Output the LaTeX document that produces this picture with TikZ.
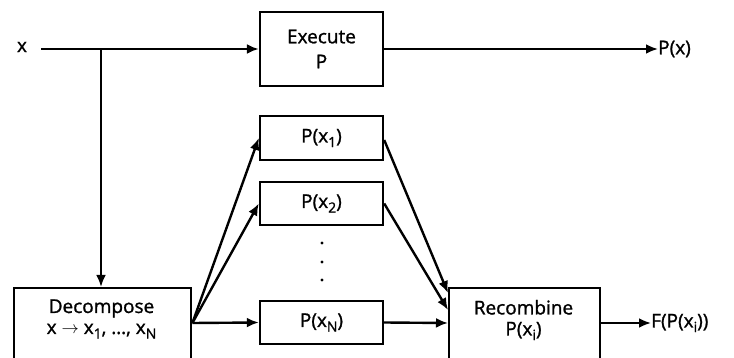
\documentclass[tikz,border=0pt]{standalone}
\usepackage{fontspec}
\setmainfont{Open Sans}[FakeBold=1.2]
\usetikzlibrary{arrows.meta}
\newcommand{\sbs}[1]{\raisebox{-0.45ex}{\fontsize{14}{15}\selectfont #1}}
\begin{document}
\begin{tikzpicture}[x=1pt,y=-1pt,
  box/.style={draw,line width=2.4pt,minimum width=123pt,inner sep=0pt,font=\fontsize{19}{21}\selectfont},
  bigbox/.style={draw,line width=2.4pt,inner sep=0pt},
  lbl/.style={inner sep=0pt,font=\fontsize{19}{21}\selectfont,align=center},
  arr/.style={line width=2.4pt,-{Latex[length=12pt,width=10pt]}},
  dotm/.style={radius=1.6pt}]
\clip (0,0) rectangle (734,358);
\useasboundingbox (0,0) rectangle (734,358);
% boxes
\node[box,minimum height=74pt,align=center] (exe) at (321.5,49) {Execute\\[4pt]P};
\node[box,minimum height=44pt] (p1) at (321.5,138) {P(x\sbs{1})};
\node[box,minimum height=43pt] (p2) at (321.5,203.5) {P(x\sbs{2})};
\node[box,minimum height=43pt] (pn) at (321.5,322.5) {P(x\sbs{N})};
\node[bigbox,minimum width=177pt,minimum height=95pt,anchor=north west] (dec) at (13,287) {};
\node[bigbox,minimum width=151pt,minimum height=95pt,anchor=north west] (rec) at (448,287) {};
\node[lbl] (dect) at (101.5,319) {Decompose\\[0pt]x $\rightarrow$ x\sbs{1}, \dots, x\sbs{N}};
\node[lbl] (rect) at (523.5,320) {Recombine\\[0pt]P(x\sbs{i})};
% dots
\fill[dotm] (322,243) circle;
\fill[dotm] (322,262) circle;
\fill[dotm] (322,280) circle;
% input
\node[lbl] (xin) at (22,47) {x};
\coordinate (xs) at (41,49);
\coordinate (jn) at (101,49);
\draw[arr] (xs) -- (exe.west);
\draw[arr] (jn) -- (jn |- dec.north);
% outputs
\coordinate (pxe) at (658,49);
\node[lbl,anchor=west] (px) at (pxe) {P(x)};
\draw[arr] (exe.east) -- (pxe);
\coordinate (fe) at (651,323);
\node[lbl,anchor=west] (fx) at (fe) {F(P(x\sbs{i}))};
\draw[arr] (rec.east |- fe) -- (fe);
% decompose fan
\coordinate (ds) at ([yshift=-36pt]dec.north east);
\draw[arr] (ds) -- (p1.west);
\draw[arr] (ds) -- (p2.west);
\draw[arr] (ds) -- (pn.west);
% recombine fan
\coordinate (r1) at ([yshift=-6pt]rec.north west);
\coordinate (r2) at ([yshift=-23pt]rec.north west);
\coordinate (r3) at ([yshift=-36pt]rec.north west);
\draw[arr] ([yshift=-2pt]p1.east) -- (r1);
\draw[arr] (p2.east) -- (r2);
\draw[arr] (pn.east) -- (r3);
\end{tikzpicture}
\end{document}
